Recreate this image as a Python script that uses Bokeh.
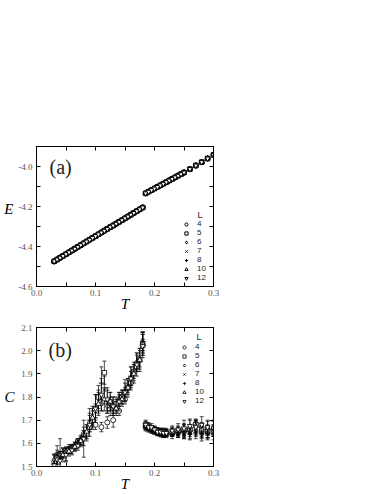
from bokeh.plotting import figure
from bokeh.models import (Range1d, FixedTicker, LinearAxis, Label, Legend,
                          LegendItem, ColumnDataSource, CustomJSTickFormatter)
from bokeh.layouts import column
from bokeh.embed import file_html
from bokeh.resources import INLINE

# ---------------- data ----------------
L_LABELS = ["4", "5", "6", "7", "8", "10", "12"]

# panel (a): energy E(T)
T_E_low = [0.030, 0.035, 0.040, 0.045, 0.050, 0.055, 0.060, 0.065, 0.070, 0.075,
           0.080, 0.085, 0.090, 0.095, 0.100, 0.105, 0.110, 0.115, 0.120, 0.125,
           0.130, 0.135, 0.140, 0.145, 0.150, 0.155, 0.160, 0.165, 0.170, 0.175, 0.180]
E_low = [-4.474, -4.465, -4.456, -4.447, -4.438, -4.429, -4.420, -4.411, -4.402, -4.393,
         -4.384, -4.375, -4.366, -4.357, -4.348, -4.339, -4.330, -4.321, -4.312, -4.303,
         -4.295, -4.286, -4.277, -4.268, -4.259, -4.250, -4.241, -4.232, -4.223, -4.214, -4.205]
T_E_high = [0.185, 0.190, 0.195, 0.200, 0.205, 0.210, 0.215, 0.220, 0.225, 0.230,
            0.235, 0.240, 0.245, 0.250, 0.260, 0.270, 0.280, 0.290, 0.300]
E_high = [-4.134, -4.126, -4.118, -4.110, -4.102, -4.094, -4.086, -4.078, -4.070, -4.062,
          -4.054, -4.046, -4.038, -4.030, -4.013, -3.995, -3.978, -3.960, -3.942]

# panel (b): specific heat C(T) with error bars
T_grid_a = [0.03, 0.04, 0.05, 0.06, 0.07, 0.08, 0.09, 0.10, 0.11, 0.12, 0.13, 0.14,
            0.15, 0.16, 0.17, 0.18]
T_grid_b = [0.035, 0.045, 0.055, 0.065, 0.075, 0.085, 0.095, 0.105, 0.115, 0.125,
            0.135, 0.145, 0.155, 0.165, 0.175, 0.18]
T_up = [0.185, 0.19, 0.195, 0.20, 0.205, 0.21, 0.215, 0.22, 0.23, 0.24, 0.25, 0.26,
        0.27, 0.28, 0.29, 0.30]

C4_low = [1.52, 1.545, 1.56, 1.585, 1.61, 1.64, 1.67, 1.68, 1.67, 1.69, 1.70, 1.74, 1.79, 1.86, 1.93, 2.02]
e4_low = [0.01, 0.015, 0.01, 0.01, 0.01, 0.015, 0.02, 0.02, 0.02, 0.025, 0.03, 0.02, 0.02, 0.02, 0.02, 0.03]
C5_low = [1.54, 1.555, 1.57, 1.585, 1.605, 1.64, 1.70, 1.80, 1.905, 1.78, 1.77, 1.80, 1.84, 1.91, 1.96, 2.03]
e5_low = [0.03, 0.02, 0.015, 0.015, 0.02, 0.03, 0.04, 0.05, 0.05, 0.04, 0.03, 0.03, 0.03, 0.04, 0.04, 0.05]
C6_low = [1.53, 1.55, 1.565, 1.58, 1.60, 1.635, 1.69, 1.74, 1.77, 1.76, 1.75, 1.79, 1.82, 1.88, 1.95, 2.03]
e6_low = [0.02, 0.015, 0.015, 0.01, 0.015, 0.02, 0.03, 0.03, 0.03, 0.03, 0.02, 0.02, 0.02, 0.03, 0.03, 0.04]
C7_low = [1.55, 1.56, 1.575, 1.59, 1.615, 1.65, 1.72, 1.78, 1.83, 1.76, 1.76, 1.80, 1.85, 1.91, 1.97, 2.04]
e7_low = [0.04, 0.02, 0.02, 0.015, 0.02, 0.03, 0.04, 0.05, 0.06, 0.04, 0.03, 0.03, 0.03, 0.03, 0.04, 0.04]
C8_low = [1.51, 1.54, 1.555, 1.575, 1.60, 1.63, 1.70, 1.76, 1.86, 1.78, 1.76, 1.79, 1.83, 1.89, 1.95, 2.04]
e8_low = [0.04, 0.08, 0.03, 0.02, 0.02, 0.04, 0.05, 0.05, 0.07, 0.05, 0.04, 0.03, 0.045, 0.04, 0.04, 0.04]
C10_low = [1.53, 1.55, 1.565, 1.585, 1.61, 1.65, 1.71, 1.77, 1.79, 1.78, 1.75, 1.79, 1.84, 1.90, 1.96, 2.03]
e10_low = [0.03, 0.03, 0.02, 0.02, 0.02, 0.03, 0.04, 0.05, 0.05, 0.04, 0.03, 0.03, 0.04, 0.04, 0.05, 0.05]
C12_low = [1.505, 1.525, 1.55, 1.57, 1.59, 1.62, 1.68, 1.75, 1.81, 1.79, 1.76, 1.78, 1.82, 1.88, 1.94, 2.02]
e12_low = [0.05, 0.04, 0.03, 0.02, 0.02, 0.08, 0.05, 0.06, 0.07, 0.05, 0.04, 0.04, 0.04, 0.05, 0.05, 0.05]

C4_up = [1.67, 1.665, 1.66, 1.655, 1.65, 1.645, 1.64, 1.64, 1.64, 1.645, 1.65, 1.655, 1.685, 1.65, 1.66, 1.66]
e4_up = [0.01, 0.01, 0.01, 0.01, 0.01, 0.01, 0.01, 0.01, 0.01, 0.015, 0.015, 0.015, 0.02, 0.015, 0.02, 0.02]
C5_up = [1.68, 1.67, 1.665, 1.66, 1.655, 1.65, 1.645, 1.645, 1.65, 1.655, 1.66, 1.66, 1.68, 1.665, 1.65, 1.65]
e5_up = [0.012, 0.01, 0.01, 0.01, 0.01, 0.01, 0.012, 0.012, 0.015, 0.015, 0.02, 0.02, 0.02, 0.02, 0.025, 0.02]
C6_up = [1.675, 1.67, 1.66, 1.655, 1.65, 1.65, 1.645, 1.64, 1.645, 1.65, 1.645, 1.65, 1.655, 1.65, 1.645, 1.655]
e6_up = [0.01, 0.01, 0.01, 0.01, 0.01, 0.012, 0.012, 0.012, 0.015, 0.015, 0.02, 0.02, 0.02, 0.025, 0.02, 0.025]
C7_up = [1.665, 1.66, 1.655, 1.65, 1.645, 1.64, 1.64, 1.645, 1.65, 1.645, 1.64, 1.645, 1.65, 1.645, 1.64, 1.65]
e7_up = [0.012, 0.012, 0.01, 0.01, 0.012, 0.012, 0.012, 0.015, 0.015, 0.02, 0.02, 0.025, 0.02, 0.025, 0.025, 0.02]
C8_up = [1.67, 1.665, 1.655, 1.65, 1.645, 1.645, 1.64, 1.645, 1.64, 1.645, 1.65, 1.64, 1.645, 1.64, 1.645, 1.64]
e8_up = [0.012, 0.012, 0.012, 0.012, 0.012, 0.015, 0.015, 0.015, 0.02, 0.02, 0.03, 0.025, 0.025, 0.03, 0.025, 0.025]
C10_up = [1.685, 1.675, 1.665, 1.66, 1.655, 1.65, 1.65, 1.645, 1.65, 1.655, 1.66, 1.67, 1.675, 1.66, 1.665, 1.67]
e10_up = [0.015, 0.015, 0.012, 0.012, 0.012, 0.015, 0.015, 0.015, 0.02, 0.02, 0.025, 0.03, 0.025, 0.03, 0.03, 0.03]
C12_up = [1.68, 1.67, 1.67, 1.66, 1.65, 1.65, 1.645, 1.645, 1.655, 1.66, 1.665, 1.675, 1.67, 1.68, 1.67, 1.665]
e12_up = [0.015, 0.015, 0.015, 0.015, 0.015, 0.015, 0.02, 0.02, 0.02, 0.025, 0.035, 0.03, 0.03, 0.035, 0.03, 0.03]

x_ticks = [0.0, 0.1, 0.2, 0.3]
x_minor = [0.05, 0.15, 0.25]
ya_ticks = [-4.6, -4.4, -4.2, -4.0]
ya_minor = [-4.5, -4.3, -4.1, -3.9]
yb_ticks = [1.5, 1.6, 1.7, 1.8, 1.9, 2.0, 2.1]

# ---------------- style ----------------
MARKERS = ["circle", "square", "diamond", "x", "cross", "triangle", "inverted_triangle"]
MSIZE = [5, 4.5, 6, 5, 5.5, 5, 5]
SERIF = "Liberation Serif"
SANS = "Liberation Sans"

low_sets = [(T_grid_a, C4_low, e4_low), (T_grid_b, C5_low, e5_low), (T_grid_a, C6_low, e6_low),
            (T_grid_b, C7_low, e7_low), (T_grid_a, C8_low, e8_low), (T_grid_b, C10_low, e10_low),
            (T_grid_a, C12_low, e12_low)]
up_sets = [(C4_up, e4_up), (C5_up, e5_up), (C6_up, e6_up), (C7_up, e7_up), (C8_up, e8_up),
           (C10_up, e10_up), (C12_up, e12_up)]

FMT1 = "return tick.toFixed(1)"


def style_axes(p, xt, xm, yt, ym, ylab, ylab_pos, ylab_standoff):
    p.xgrid.visible = False
    p.ygrid.visible = False
    p.outline_line_color = "black"
    p.outline_line_width = 1
    xb = LinearAxis(ticker=FixedTicker(ticks=xt, minor_ticks=xm),
                    formatter=CustomJSTickFormatter(code=FMT1))
    yl = LinearAxis(ticker=FixedTicker(ticks=yt, minor_ticks=ym),
                    formatter=CustomJSTickFormatter(code=FMT1))
    xa = LinearAxis(ticker=FixedTicker(ticks=xt, minor_ticks=xm))
    yr = LinearAxis(ticker=FixedTicker(ticks=yt, minor_ticks=ym))
    for ax in (xb, yl, xa, yr):
        ax.axis_line_color = "black"
        ax.major_tick_in = 4
        ax.major_tick_out = 0
        ax.minor_tick_in = 4
        ax.minor_tick_out = 0
        ax.major_tick_line_color = "black"
        ax.minor_tick_line_color = "black"
        ax.major_label_text_font = SERIF
        ax.major_label_text_font_size = "9px"
        ax.major_label_text_color = "#555555"
    for ax in (xa, yr):
        ax.major_label_text_font_size = "0px"
        ax.major_label_text_color = None
        ax.major_label_standoff = 0
    xb.major_label_standoff = 3
    yl.major_label_standoff = 4
    xb.axis_label = "T"
    xb.axis_label_text_font = SERIF
    xb.axis_label_text_font_size = "15px"
    xb.axis_label_text_font_style = "italic"
    xb.axis_label_text_color = "black"
    xb.axis_label_standoff = -3
    # quantity name shown horizontally beside the y axis
    yn = LinearAxis(ticker=FixedTicker(ticks=[ylab_pos], minor_ticks=[]),
                    formatter=CustomJSTickFormatter(code="return '%s'" % ylab))
    yn.axis_line_color = None
    yn.major_tick_line_color = None
    yn.minor_tick_line_color = None
    yn.major_tick_in = 0
    yn.major_tick_out = 0
    yn.major_label_standoff = ylab_standoff
    yn.major_label_text_font = SERIF
    yn.major_label_text_font_size = "15px"
    yn.major_label_text_font_style = "italic"
    yn.major_label_text_color = "black"
    p.add_layout(xb, "below")
    p.add_layout(yl, "left")
    p.add_layout(yn, "left")
    p.add_layout(xa, "above")
    p.add_layout(yr, "right")


def txt(p, x, y, s, size, font=SERIF, style="normal", align="left", baseline="middle"):
    p.add_layout(Label(x=x, y=y, text=s, text_font=font, text_font_size=size,
                       text_font_style=style, text_align=align, text_baseline=baseline,
                       text_color="#222222"))


def make_legend(items, loc):
    return Legend(items=items, location=loc, border_line_color=None,
                  background_fill_alpha=0, padding=0, margin=0, spacing=0,
                  glyph_height=8, glyph_width=8, label_height=8, label_standoff=7,
                  label_text_font=SANS, label_text_font_size="8px",
                  label_text_color="#222222")


# ---------------- panel (a) ----------------
pa = figure(width=223, height=314, x_range=Range1d(0, 0.3), y_range=Range1d(-4.6, -3.9),
            output_backend="svg", toolbar_location=None, x_axis_type=None, y_axis_type=None,
            min_border_left=36, min_border_right=10, min_border_top=146, min_border_bottom=25)
style_axes(pa, x_ticks, x_minor, ya_ticks, ya_minor, "E", -4.21, 2)

srcE = ColumnDataSource(dict(T=T_E_low + T_E_high, E=E_low + E_high))
items_a = []
for lab, m, s in zip(L_LABELS, MARKERS, MSIZE):
    r = pa.scatter(x="T", y="E", source=srcE, marker=m, size=s, fill_color="white",
                   line_color="black", line_width=1.0)
    items_a.append(LegendItem(label=lab, renderers=[r]))

txt(pa, 0.022, -4.0, "(a)", "20px")
txt(pa, 0.2729, -4.24, "L", "9px", font=SANS)
pa.add_layout(make_legend(items_a, (146, 4)))

# ---------------- panel (b) ----------------
pb = figure(width=223, height=180, x_range=Range1d(0, 0.3), y_range=Range1d(1.5, 2.1),
            output_backend="svg", toolbar_location=None, x_axis_type=None, y_axis_type=None,
            min_border_left=36, min_border_right=10, min_border_top=13, min_border_bottom=25)
style_axes(pb, x_ticks, x_minor, yb_ticks, [], "C", 1.80, 4)

items_b = []
for lab, m, s, (tl, cl, el), (cu, eu) in zip(L_LABELS, MARKERS, MSIZE, low_sets, up_sets):
    T = list(tl) + list(T_up)
    C = list(cl) + list(cu)
    e = list(el) + list(eu)
    src = ColumnDataSource(dict(T=T, C=C, lo=[c - d for c, d in zip(C, e)],
                                hi=[c + d for c, d in zip(C, e)]))
    pb.segment(x0="T", y0="lo", x1="T", y1="hi", source=src, line_color="black", line_width=0.7)
    pb.scatter(x="T", y="hi", source=src, marker="dash", size=4, line_color="black", line_width=0.7)
    pb.scatter(x="T", y="lo", source=src, marker="dash", size=4, line_color="black", line_width=0.7)
    r = pb.scatter(x="T", y="C", source=src, marker=m, size=s, fill_color="white",
                   line_color="black", line_width=0.8)
    items_b.append(LegendItem(label=lab, renderers=[r]))

txt(pb, 0.0203, 2.002, "(b)", "20px")
txt(pb, 0.271, 2.058, "L", "9px", font=SANS)
pb.add_layout(make_legend(items_b, (144, 61)))

layout = column(pa, pb, spacing=0)
open("out.html", "w").write(file_html(layout, INLINE))
